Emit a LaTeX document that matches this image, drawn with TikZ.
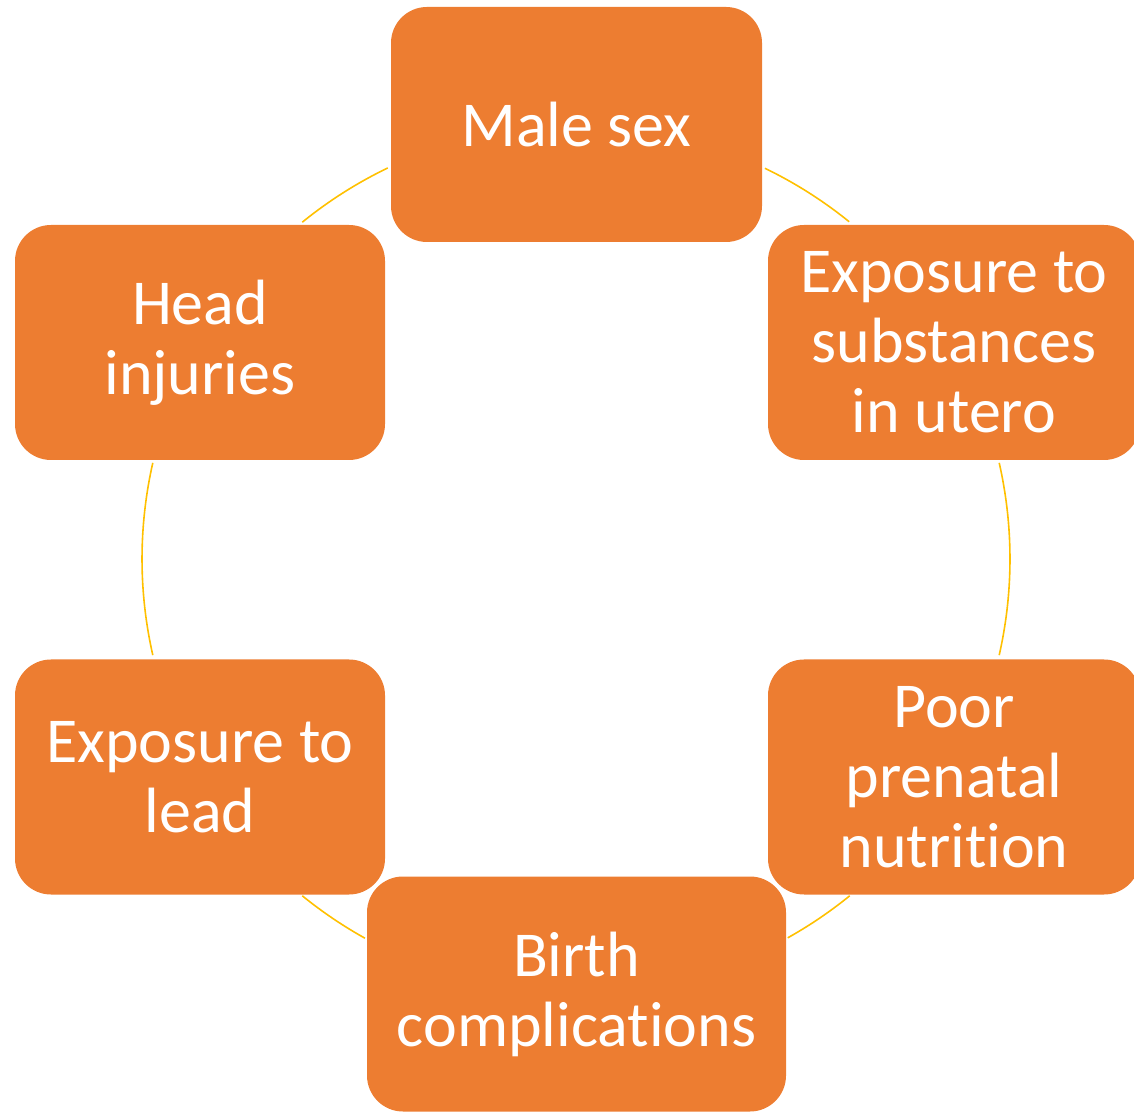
\documentclass[tikz,border=0pt]{standalone}
\usepackage{fontspec}
\setmainfont{Carlito}[Ligatures={NoCommon}]
\definecolor{boxorange}{HTML}{ED7D31}
\definecolor{ringgold}{HTML}{FFC000}
\begin{document}
\begin{tikzpicture}[x=1pt,y=1pt,
  factor/.style={rectangle, rounded corners=36pt, fill=boxorange, draw=none,
    text=white, align=center, inner sep=0pt, minimum height=235pt,
    font=\fontsize{64}{70}\selectfont},
  ring/.style={draw=ringgold, line width=1.6pt}]
\useasboundingbox (0,0) rectangle (1134,1111);
\begin{scope}
\clip (0,0) rectangle (1134,1111);
\coordinate (c) at (576,552);
\draw[ring] (c) ++(64.2:434) arc[start angle=64.2, end angle=51, radius=434];
\draw[ring] (c) ++(12.8:434) arc[start angle=12.8, end angle=-12.8, radius=434];
\draw[ring] (c) ++(-50.9:434) arc[start angle=-50.9, end angle=-60.8, radius=434];
\draw[ring] (c) ++(-119.1:434) arc[start angle=-119.1, end angle=-129.1, radius=434];
\draw[ring] (c) ++(167.2:434) arc[start angle=167.2, end angle=192.8, radius=434];
\draw[ring] (c) ++(129.1:434) arc[start angle=129.1, end angle=115.7, radius=434];
\node[factor, minimum width=371pt] (male) at (576.5,986.5) {Male sex};
\node[factor, minimum width=372pt] (subst) at (954,768.5) {Exposure to\\substances\\in utero};
\node[factor, minimum width=372pt] (poor) at (954,334) {Poor\\prenatal\\nutrition};
\node[factor, minimum width=419pt] (birth) at (576.5,117) {Birth\\complications};
\node[factor, minimum width=370pt] (lead) at (200,334) {Exposure to\\lead};
\node[factor, minimum width=370pt] (head) at (200,768.5) {Head\\injuries};
\end{scope}
\end{tikzpicture}
\end{document}
